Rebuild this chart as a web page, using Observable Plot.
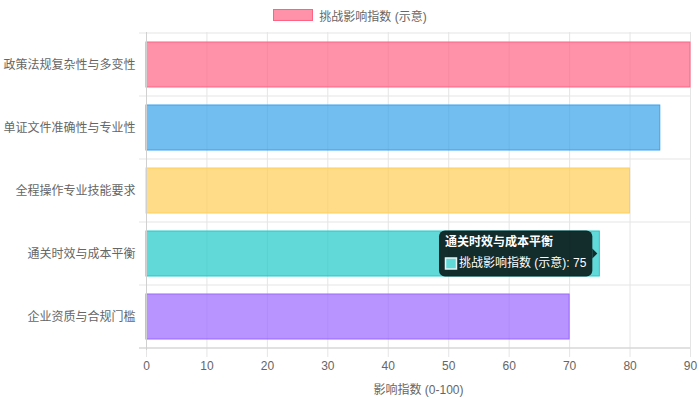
<!DOCTYPE html>
<html><head><meta charset="utf-8">
<script src="https://cdn.jsdelivr.net/npm/d3@7"></script>
<script src="https://cdn.jsdelivr.net/npm/@observablehq/plot@0.6"></script>
<style>
body{margin:0;background:#fff;font-family:"Liberation Sans","Noto Sans CJK SC",sans-serif;}
#legend{height:30px;display:flex;justify-content:center;align-items:center;font-size:12px;color:#666;}
.sw{display:inline-block;width:38px;height:10px;margin-right:6px;background:rgba(255,99,132,0.7);border:1px solid rgb(255,99,132)}
#chart svg{display:block}
</style></head><body>
<div id="legend"><span class="sw"></span><span id="legendText"></span></div>
<div id="chart"></div>
<script>
const categories = ["政策法规复杂性与多变性","单证文件准确性与专业性","全程操作专业技能要求","通关时效与成本平衡","企业资质与合规门槛"];
const values = [90, 85, 80, 75, 70];
const fills = ["rgba(255,99,132,0.7)","rgba(54,162,235,0.7)","rgba(255,206,86,0.7)","rgba(32,201,201,0.7)","rgba(153,102,255,0.7)"];
const strokes = ["rgb(255,99,132)","rgb(54,162,235)","rgb(255,206,86)","rgb(32,201,201)","rgb(153,102,255)"];
const seriesName = "挑战影响指数 (示意)";
const xTicks = [0,10,20,30,40,50,60,70,80,90];
const xLabel = "影响指数 (0-100)";
const tooltipIndex = 3;

document.getElementById("legendText").textContent = seriesName;

const data = categories.map((c, i) => ({category: c, value: values[i], fill: fills[i], stroke: strokes[i]}));
const font = '"Liberation Sans","Noto Sans CJK SC",sans-serif';

const chart = Plot.plot({
  width: 700,
  height: 370,
  marginTop: 2,
  marginBottom: 51,
  marginLeft: 146,
  marginRight: 10,
  style: {fontFamily: font, fontSize: "12px", background: "#fff"},
  x: {domain: [0, 90]},
  y: {domain: categories, paddingInner: 0.28, paddingOuter: 0.14},
  color: {type: "identity"},
  marks: [
    Plot.gridX(xTicks, {stroke: "#e5e5e5", strokeOpacity: 1}),
    Plot.barX(data, {x: "value", y: "category", fill: "fill", stroke: "stroke", strokeWidth: 1}),
    Plot.axisX(xTicks, {tickSize: 8, stroke: "#e5e5e5", strokeOpacity: 1, fill: "#666", fontSize: 12, tickPadding: 4,
      label: xLabel, labelAnchor: "center", labelArrow: "none", labelOffset: 44}),
    Plot.axisY({tickSize: 0, tickPadding: 11, fill: "#666", fontSize: 12, label: null}),
    Plot.frame({anchor: "left", stroke: "#d0d0d0"})
  ]
});
document.getElementById("chart").appendChild(chart);

const svg = d3.select(chart);
const xs = chart.scale("x"), ys = chart.scale("y");
const step = ys.step, bw = ys.bandwidth;
const bounds = categories.map(c => ys.apply(c) - (step - bw) / 2);
bounds.push(bounds[bounds.length - 1] + step);
const x0 = xs.apply(0), x1 = xs.apply(90);
const g = svg.insert("g", ":first-child");
bounds.forEach((b, i) => {
  g.append("line").attr("x1", x0 - 7).attr("x2", x1)
    .attr("y1", b).attr("y2", b)
    .attr("stroke", "#e5e5e5");
});
svg.append("line").attr("x1", x0 - 7).attr("x2", x1).attr("y1", bounds[bounds.length-1]).attr("y2", bounds[bounds.length-1]).attr("stroke", "#d0d0d0");

// tooltip
const cat = categories[tooltipIndex];
const xe = xs.apply(values[tooltipIndex]);
const yc = ys.apply(cat) + bw / 2;
const tg = svg.append("g").style("font-family", font).style("font-size", "12px").attr("text-anchor", "start");
const boxR = xe - 7, boxH = 46, boxT = yc - boxH / 2;
const rect = tg.append("rect").attr("fill", "rgba(0,0,0,0.8)").attr("rx", 6).attr("ry", 6);
const caret = tg.append("path").attr("fill", "rgba(0,0,0,0.8)");
const title = tg.append("text").text(cat).attr("fill", "#fff").attr("font-weight", "bold").attr("text-anchor", "start").attr("dominant-baseline", "middle");
const body = tg.append("text").text(seriesName + ": " + values[tooltipIndex]).attr("fill", "#fff").attr("text-anchor", "start").attr("dominant-baseline", "middle");
const tw = title.node().getComputedTextLength();
const bwid = body.node().getComputedTextLength();
const boxW = Math.max(tw, bwid + 14) + 12;
const boxL = boxR - boxW;
rect.attr("x", boxL).attr("y", boxT).attr("width", boxW).attr("height", boxH);
caret.attr("d", `M${boxR},${yc - 5}L${boxR + 5},${yc}L${boxR},${yc + 5}Z`);
title.attr("x", boxL + 6).attr("y", boxT + 12);
tg.append("rect").attr("x", boxL + 6.5).attr("y", boxT + 27.5).attr("width", 11).attr("height", 11).attr("fill", "#fff");
tg.append("rect").attr("x", boxL + 6.5).attr("y", boxT + 27.5).attr("width", 11).attr("height", 11)
  .attr("fill", fills[tooltipIndex]).attr("stroke", "#e8f4f4").attr("stroke-width", 1.5);
body.attr("x", boxL + 20).attr("y", boxT + 33);
</script>
</body></html>
